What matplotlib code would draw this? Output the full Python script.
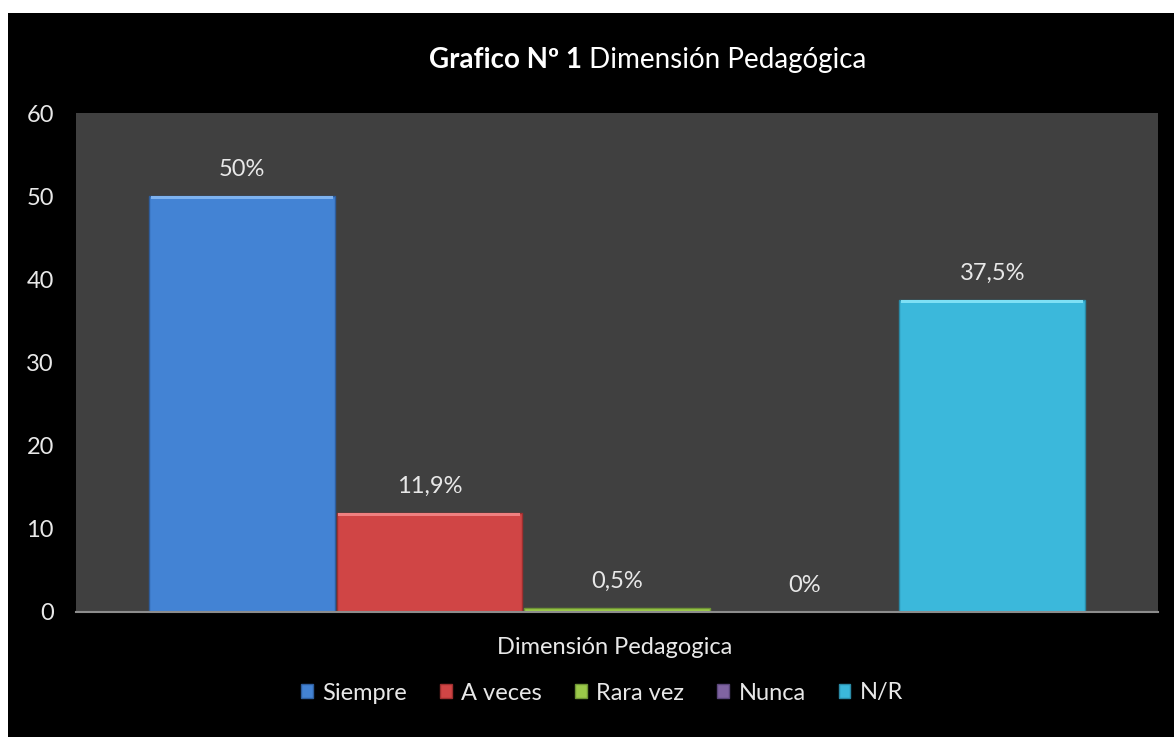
import numpy as np
import matplotlib.pyplot as plt
from matplotlib.patches import Rectangle

plt.rcParams['font.family'] = ['Lato', 'DejaVu Sans']

# Data
categories = ['Siempre', 'A veces', 'Rara vez', 'Nunca', 'N/R']
values = [50, 11.9, 0.5, 0, 37.5]
value_labels = ['50%', '11,9%', '0,5%', '0%', '37,5%']
colors = ['#4383D4', '#D04545', '#9BC94A', '#8064A2', '#3BB8DB']
edge_colors = ['#2E5E9E', '#9E2F2F', '#6E9435', '#5A467A', '#2A8AA6']
top_colors = ['#7DB2F0', '#F08080', '#C4EB80', '#A890C8', '#7EE0F5']

fig = plt.figure(figsize=(11.74, 7.37), dpi=100)
fig.patch.set_facecolor('white')
# black chart area (small white margin top/left as in the original)
fig.patches.append(Rectangle((8 / 1174, 0), 1, 1 - 13 / 737, transform=fig.transFigure,
                             facecolor='black', edgecolor='none', zorder=-5))

ax = fig.add_axes([76 / 1174, 1 - 612 / 737, (1158 - 76) / 1174, (612 - 113) / 737])
ax.set_zorder(2)
ax.set_facecolor('#404040')

x = np.arange(len(categories))
bars = ax.bar(x, values, width=0.99, color=colors, edgecolor=edge_colors, linewidth=1,
              zorder=2)
# light bevel on top of each bar
for xi, v, tc in zip(x, values, top_colors):
    if v > 0.6:
        ax.bar(xi, 0.35, bottom=v - 0.35, width=0.97, color=tc, linewidth=0, zorder=3)

for xi, v, lab in zip(x, values, value_labels):
    ax.annotate(lab, (xi, v), xytext=(0, 19), textcoords='offset points',
                ha='center', va='center', color='#E8E8E8', fontsize=17)

ax.set_xlim(-0.884, 4.884)
ax.set_ylim(0, 60)
ax.set_yticks(np.arange(0, 61, 10))
ax.set_xticks([])
ax.tick_params(axis='y', length=0, pad=16, labelcolor='#E8E8E8', labelsize=17)
for s in ['top', 'right', 'left']:
    ax.spines[s].set_visible(False)
ax.spines['bottom'].set_color('#8C8C8C')
ax.spines['bottom'].set_linewidth(1.5)

fig.text(615 / 1174, 1 - 647 / 737, 'Dimensión Pedagogica', ha='center', va='center',
         color='#E8E8E8', fontsize=17)

# legend
handles = [Rectangle((0, 0), 1, 1, facecolor=c, edgecolor=e, linewidth=1)
           for c, e in zip(colors, edge_colors)]
leg = fig.legend(handles, categories, loc='center', bbox_to_anchor=(602 / 1174, 1 - 693 / 737),
                 ncol=5, frameon=False, fontsize=17, handlelength=0.5, handleheight=0.5,
                 handletextpad=0.4, columnspacing=1.4, labelcolor='#E8E8E8')

# title with bold and normal parts
t_y = 1 - 60 / 737
t1 = fig.text(0, t_y, 'Grafico Nº 1', fontsize=20, fontweight='bold', color='white',
              va='center', ha='left')
t2 = fig.text(0, t_y, ' Dimensión Pedagógica', fontsize=20, color='white',
              va='center', ha='left')
fig.canvas.draw()
r = fig.canvas.get_renderer()
w1 = t1.get_window_extent(r).width / fig.bbox.width
w2 = t2.get_window_extent(r).width / fig.bbox.width
x0 = 648 / 1174 - (w1 + w2) / 2
t1.set_x(x0)
t2.set_x(x0 + w1)

fig.savefig('out.png', dpi=100, facecolor=fig.get_facecolor())
